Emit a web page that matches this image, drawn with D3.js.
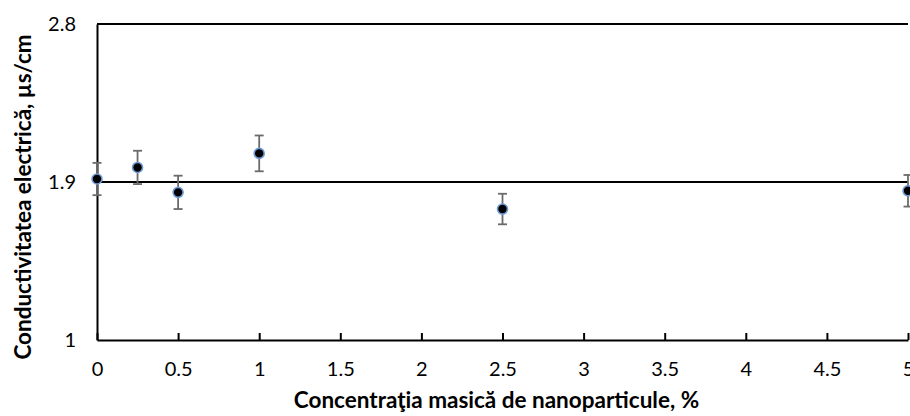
<!DOCTYPE html>
<html>
<head>
<meta charset="utf-8">
<script src="https://cdn.jsdelivr.net/npm/d3@7"></script>
<style>
  html, body { margin: 0; padding: 0; background: #ffffff; }
  svg { display: block; }
  text { font-family: Lato, "Open Sans", "Noto Sans", sans-serif; fill: #000; }
</style>
</head>
<body>
<svg id="chart" width="910" height="416"></svg>
<script>
// Electrical conductivity vs. nanoparticle mass concentration
const concentrations = [0, 0.25, 0.5, 1, 2.5, 5];
const conductivity   = [1.917, 1.983, 1.841, 2.063, 1.746, 1.850];
const errorValues    = [0.092, 0.095, 0.095, 0.102, 0.087, 0.090];
const referenceLevel = 1.9;

const xTicks = [0, 0.5, 1, 1.5, 2, 2.5, 3, 3.5, 4, 4.5, 5];
const yTicks = [1, 1.9, 2.8];
const xTitle = "Concentraţia masică de nanoparticule, %";
const yTitle = "Conductivitatea electrică, µs/cm";

const svg = d3.select("#chart");
const margin = { left: 97, right: 2, top: 24, bottom: 76 };
const W = 910, H = 416;

const x = d3.scaleLinear().domain([0, 5]).range([margin.left, W - margin.right]);
const y = d3.scaleLinear().domain([1, 2.8]).range([H - margin.bottom, margin.top]);

const data = concentrations.map((c, i) => ({ c, v: conductivity[i], e: errorValues[i] }));

// Top border line
svg.append("line")
  .attr("x1", x(0)).attr("x2", x(5))
  .attr("y1", y(2.8)).attr("y2", y(2.8))
  .attr("stroke", "#000").attr("stroke-width", 2);

// Reference level
svg.append("line")
  .attr("x1", x(0)).attr("x2", x(5))
  .attr("y1", y(referenceLevel)).attr("y2", y(referenceLevel))
  .attr("stroke", "#000").attr("stroke-width", 1.8);

// Left axis (no tick marks)
const yAxis = svg.append("g")
  .attr("transform", `translate(${margin.left},0)`)
  .call(d3.axisLeft(y).tickValues(yTicks).tickSize(0).tickPadding(21)
        .tickFormat(d => d3.format("")(d)));
yAxis.select(".domain").attr("stroke", "#000").attr("stroke-width", 2);
yAxis.selectAll("text").style("font-size", "20px").attr("fill", "#000");

// Bottom axis with inward ticks
const xAxis = svg.append("g")
  .attr("transform", `translate(0,${y(1)})`)
  .call(d3.axisBottom(x).tickValues(xTicks).tickSizeInner(-7).tickSizeOuter(0).tickPadding(22)
        .tickFormat(d => d3.format("")(d)));
xAxis.select(".domain").attr("stroke", "#000").attr("stroke-width", 2);
xAxis.selectAll(".tick line").attr("stroke", "#000").attr("stroke-width", 2);
xAxis.selectAll("text").style("font-size", "20px").attr("fill", "#000");

// Error bars
const eb = svg.append("g").attr("stroke", "#6b6b6b").attr("stroke-width", 1.8);
data.forEach(d => {
  const cx = x(d.c), y0 = y(d.v - d.e), y1 = y(d.v + d.e);
  eb.append("line").attr("x1", cx).attr("x2", cx).attr("y1", y0).attr("y2", y1);
  eb.append("line").attr("x1", cx - 4.5).attr("x2", cx + 4.5).attr("y1", y0).attr("y2", y0);
  eb.append("line").attr("x1", cx - 4.5).attr("x2", cx + 4.5).attr("y1", y1).attr("y2", y1);
});

// Markers
svg.append("g").selectAll("circle")
  .data(data)
  .join("circle")
  .attr("cx", d => x(d.c))
  .attr("cy", d => y(d.v))
  .attr("r", 5)
  .attr("fill", "#000")
  .attr("stroke", "#6f9bd6")
  .attr("stroke-width", 1.6);

// Axis titles
svg.append("text")
  .attr("x", (x(0) + x(5)) / 2 - 6)
  .attr("y", 400)
  .attr("dy", "0.35em")
  .attr("text-anchor", "middle")
  .style("font-size", "22.5px")
  .style("font-weight", "bold")
  .text(xTitle);

svg.append("text")
  .attr("transform", "translate(23,197) rotate(-90)")
  .attr("dy", "0.35em")
  .attr("text-anchor", "middle")
  .style("font-size", "22.5px")
  .style("font-weight", "bold")
  .text(yTitle);
</script>
</body>
</html>
